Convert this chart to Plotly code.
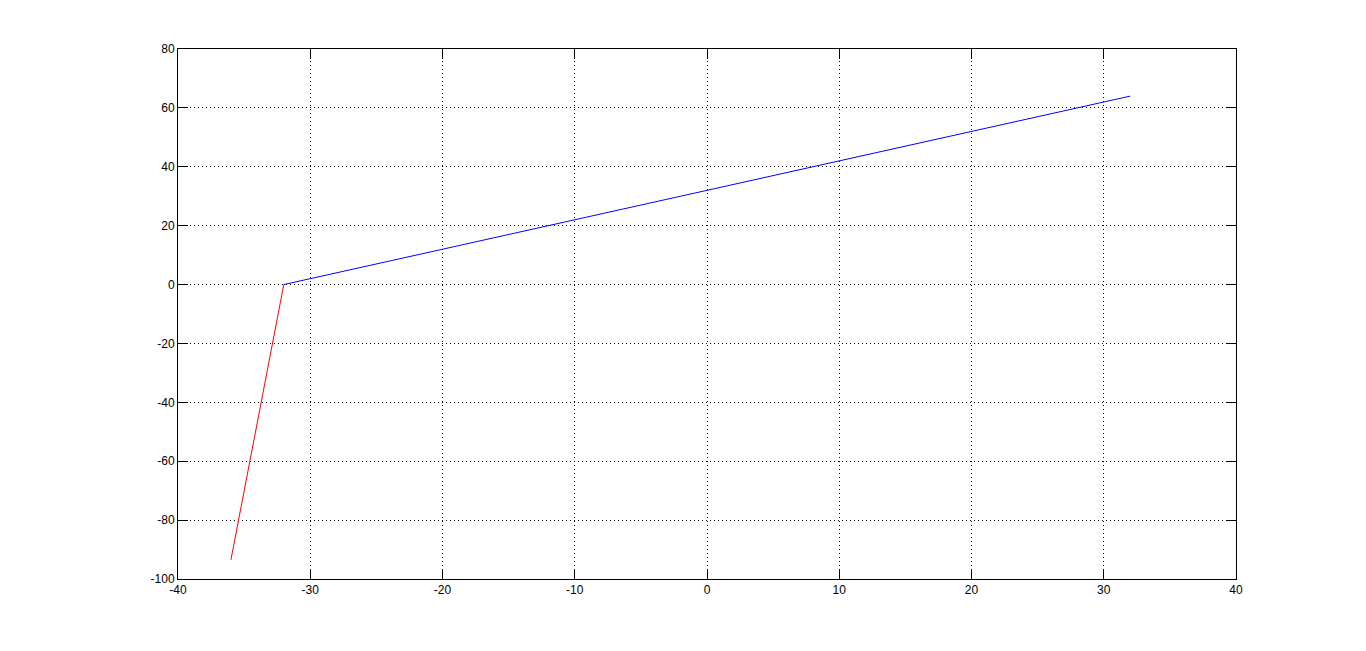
import plotly.graph_objects as go

red_x = [-36, -32]
red_y = [-93.5, 0]
blue_x = [-32, 32]
blue_y = [0, 64]

x_ticks = [-40, -30, -20, -10, 0, 10, 20, 30, 40]
y_ticks = [-100, -80, -60, -40, -20, 0, 20, 40, 60, 80]

fig = go.Figure()
fig.add_trace(go.Scatter(x=red_x, y=red_y, mode="lines",
                         line=dict(color="#ff0000", width=1), showlegend=False))
fig.add_trace(go.Scatter(x=blue_x, y=blue_y, mode="lines",
                         line=dict(color="#0000ff", width=1), showlegend=False))

axis_common = dict(
    showline=True, linecolor="black", linewidth=1, mirror="ticks",
    ticks="inside", ticklen=10, tickcolor="black",
    showgrid=True, gridcolor="black", griddash="1px,3px", gridwidth=1,
    zeroline=False,
    tickfont=dict(family="Liberation Sans, Arial", size=12, color="black"),
)
fig.update_xaxes(range=[-40, 40], tickvals=x_ticks,
                 ticktext=[str(v) for v in x_ticks], **axis_common)
fig.update_yaxes(range=[-100, 80], tickvals=y_ticks,
                 ticktext=[str(v) for v in y_ticks], **axis_common)
fig.update_layout(
    width=1366, height=651,
    margin=dict(l=170, r=138, t=41, b=80),
    paper_bgcolor="white", plot_bgcolor="white",
)
fig.write_html("out.html")
